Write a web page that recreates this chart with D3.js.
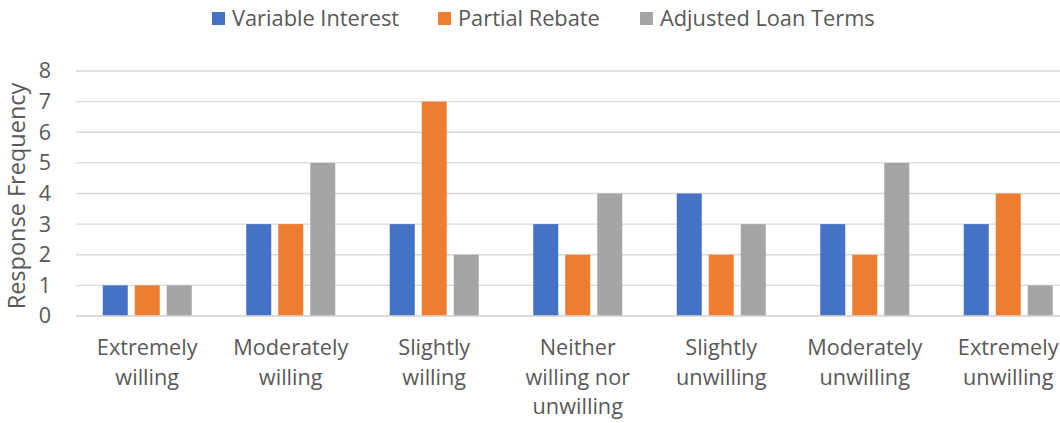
<!DOCTYPE html>
<html><head><meta charset="utf-8">
<script src="https://cdn.jsdelivr.net/npm/d3@7"></script>
<style>body{margin:0;background:#fff}svg{display:block;font-family:"Open Sans",sans-serif}</style>
</head><body><svg id="c" width="1060" height="423"></svg>
<script>
const categories = [["Extremely","willing"],["Moderately","willing"],["Slightly","willing"],["Neither","willing nor","unwilling"],["Slightly","unwilling"],["Moderately","unwilling"],["Extremely","unwilling"]];
const seriesNames = ["Variable Interest","Partial Rebate","Adjusted Loan Terms"];
const variableInterest = [1,3,3,3,4,3,3];
const partialRebate = [1,3,7,2,2,2,4];
const adjustedLoanTerms = [1,5,2,4,3,5,1];
const yTicks = [0,1,2,3,4,5,6,7,8];
const colors = ["#4472C4","#ED7D31","#A5A5A5"];
const series = [variableInterest, partialRebate, adjustedLoanTerms];

(function(){
const svg = d3.select("#c");
const left = 75.5, step = 143.5, plotTop = 71, plotBottom = 316;
const pad = 54.5/143.5;
const x0 = d3.scaleBand().domain(d3.range(categories.length)).range([left, left + step*categories.length]).paddingInner(pad).paddingOuter(pad/2);
const x1 = d3.scaleBand().domain(d3.range(3)).range([0, x0.bandwidth()]).paddingInner(0.21875).paddingOuter(0);
const y = d3.scaleLinear().domain([0,8]).range([plotBottom, plotTop]);
const txt = "#595959";

svg.append("g").selectAll("line").data(yTicks).join("line")
  .attr("x1", 76).attr("x2", 1060)
  .attr("y1", d=>y(d)).attr("y2", d=>y(d))
  .attr("stroke", "#d9d9d9").attr("stroke-width", 1.3);

const ya = svg.append("g").attr("transform", `translate(75,0)`)
  .call(d3.axisLeft(y).tickValues(yTicks).tickSize(0).tickPadding(24));
ya.select(".domain").remove();
ya.selectAll("text").attr("font-size", 21.5).attr("fill", txt).attr("font-family","Open Sans, sans-serif");

const g = svg.append("g");
categories.forEach((c,i)=>{
  series.forEach((s,j)=>{
    g.append("rect")
      .attr("x", x0(i)+x1(j)).attr("width", x1.bandwidth())
      .attr("y", y(s[i])).attr("height", y(0)-y(s[i]))
      .attr("fill", colors[j]);
  });
});

svg.append("line").attr("x1", 76).attr("x2", 1060).attr("y1", y(0)).attr("y2", y(0)).attr("stroke","#d9d9d9").attr("stroke-width",1.3);

categories.forEach((c,i)=>{
  const t = svg.append("text").attr("text-anchor","middle").attr("font-size",21.7).attr("fill",txt);
  c.forEach((line,k)=>{
    t.append("tspan").attr("x", x0(i)+x0.bandwidth()/2).attr("y", 355 + k*29.5).text(line);
  });
});

svg.append("text").attr("transform","translate(25,196) rotate(-90)").attr("text-anchor","middle")
  .attr("font-size",23.5).attr("fill",txt).text("Response Frequency");

const legX = [212, 438, 640];
seriesNames.forEach((n,j)=>{
  svg.append("rect").attr("x", legX[j]).attr("y", 12).attr("width", 13).attr("height", 13).attr("fill", colors[j]);
  svg.append("text").attr("x", legX[j]+20).attr("y", 25.5).attr("font-size",21.8).attr("fill",txt).text(n);
});
})();
</script></body></html>
